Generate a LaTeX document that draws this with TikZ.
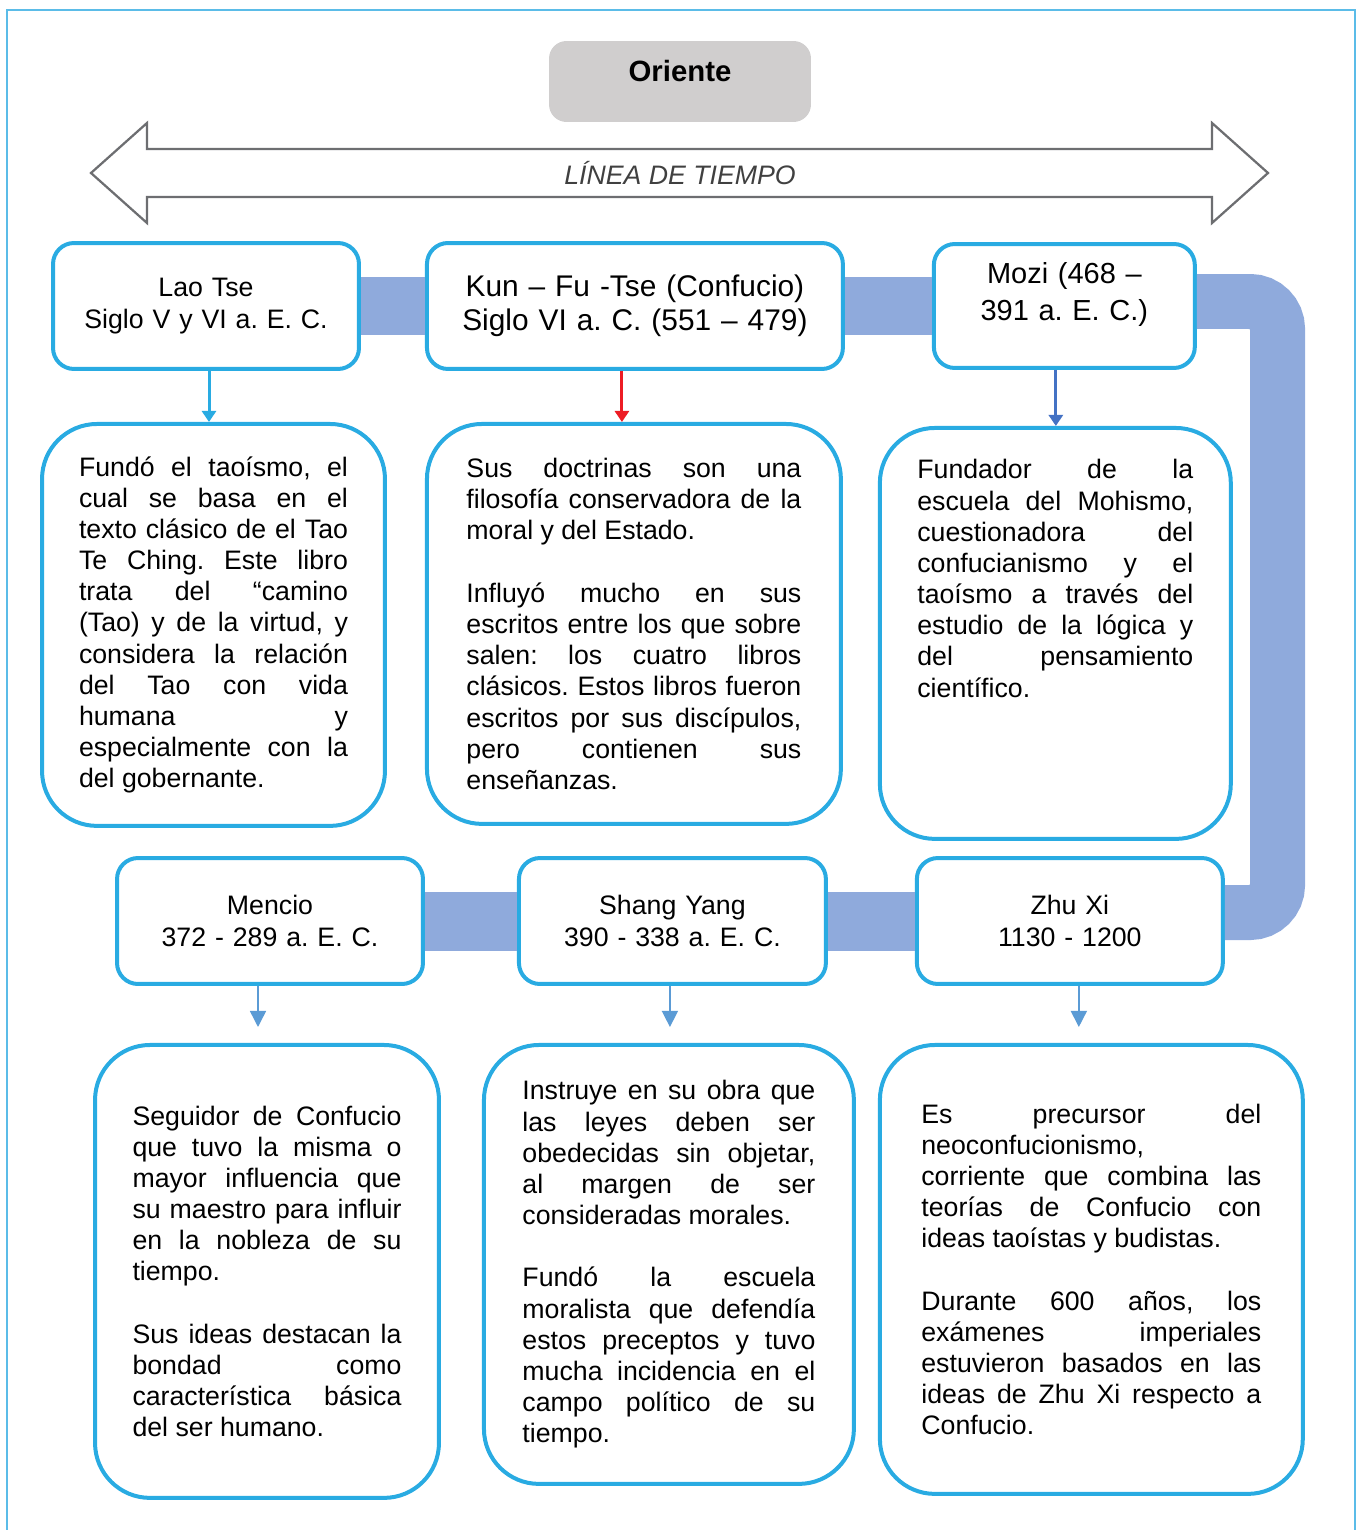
\documentclass[tikz,border=0pt]{standalone}
\usepackage{fontspec}
\setmainfont{Liberation Sans}
\usepackage{tikz}
\usetikzlibrary{arrows.meta, positioning}

\definecolor{boxblue}{HTML}{29ABE2}
\definecolor{linkblue}{HTML}{8FAADC}
\definecolor{kunred}{HTML}{ED1C24}
\definecolor{mozblue}{HTML}{4472C4}
\definecolor{subblue}{HTML}{5B9BD5}
\definecolor{oribg}{HTML}{D0CECE}
\definecolor{tlgray}{HTML}{6D6E71}
\definecolor{frameblue}{HTML}{5BBCE8}

\newcommand{\descfont}{\fontsize{15.2}{17.75}\selectfont\tolerance=10000\relax\hyphenpenalty=10000\relax\parindent=0pt\relax}
\newcommand{\padbelow}[1]{\par\nointerlineskip\vbox to #1{}}
\frenchspacing

\begin{document}
\begin{tikzpicture}[x=0.02cm, y=-0.02cm,
    pageframe/.style={draw=frameblue, line width=0.03cm},
    headbox/.style={fill=oribg, rounded corners=0.35cm, minimum width=5.24cm, minimum height=1.62cm, text depth=0.42cm, font=\bfseries\fontsize{16.7}{20}\selectfont},
    tlarrow/.style={draw=tlgray, line width=0.045cm, fill=white},
    hdr/.style={draw=boxblue, line width=0.08cm, rounded corners=0.42cm, align=center, text width=5.6cm, minimum height=2.52cm, font=\fontsize{15.2}{17.75}\selectfont},
    desc/.style={draw=boxblue, line width=0.08cm, rounded corners=1.1cm, align=justify, font=\descfont},
    link/.style={draw=linkblue, line width=1.18cm},
    mainarrow/.style={-{Triangle[width=0.28cm,length=0.22cm]}, line width=0.06cm},
    subarrow/.style={-{Triangle[width=0.32cm,length=0.32cm]}, draw=subblue, line width=0.03cm, shorten >=0.32cm}]

    \useasboundingbox (0,0) rectangle (1358,1530);
    \draw[pageframe] (7,1530) |- (1355,10) -- (1355,1530);

    % Title and time line
    \node[headbox] (ori) at (680,81.5) {Oriente};
    \draw[tlarrow] (91,173) -- (147,123) -- (147,149) -- (1212,149) -- (1212,123) -- (1268,173)
        -- (1212,223) -- (1212,197) -- (147,197) -- (147,223) -- cycle;
    \node[font=\itshape\fontsize{15.2}{18}\selectfont, text=black!75] (tl) at (680,173) {LÍNEA DE TIEMPO};

    % Top row
    \node[hdr, minimum width=6.12cm] (lao) at (206,306) {Lao Tse\\Siglo V y VI a. E. C.};
    \node[hdr, right=1.28cm of lao, minimum width=8.32cm, text width=7.4cm, font=\fontsize{17}{19.35}\selectfont] (kun) {Kun – Fu -Tse (Confucio)\\Siglo VI a. C. (551 – 479)};
    \node[hdr, right=1.74cm of kun, minimum width=5.22cm, minimum height=2.48cm, text width=4.9cm, font=\fontsize{16.5}{21}\selectfont] (mozi) {Mozi (468 –\\391 a. E. C.)\padbelow{0.46cm}};

    \node[desc, below=1.02cm of lao, xshift=0.15cm, minimum width=6.86cm, minimum height=8.04cm, text width=5.38cm] (laod) {%
        Fundó el taoísmo, el\linebreak
        cual se basa en el\linebreak
        texto clásico de el Tao\linebreak
        Te Ching. Este libro\linebreak
        trata del “camino\linebreak
        (Tao) y de la virtud, y\linebreak
        considera la relación\linebreak
        del Tao con vida\linebreak
        humana y\linebreak
        especialmente con la\linebreak
        del gobernante.};
    \node[desc, below=1.02cm of kun, xshift=-0.02cm, minimum width=8.28cm, minimum height=8cm, text width=6.7cm] (kund) {%
        Sus doctrinas son una\linebreak
        filosofía conservadora de la\linebreak
        moral y del Estado.\par\vspace{\baselineskip}
        Influyó mucho en sus\linebreak
        escritos entre los que sobre\linebreak
        salen: los cuatro libros\linebreak
        clásicos. Estos libros fueron\linebreak
        escritos por sus discípulos,\linebreak
        pero contienen sus\linebreak
        enseñanzas.};
    \node[desc, below=1.12cm of mozi, xshift=-0.18cm, minimum width=7.02cm, minimum height=8.22cm, text width=5.52cm] (mozid) {%
        Fundador de la\linebreak
        escuela del Mohismo,\linebreak
        cuestionadora del\linebreak
        confucianismo y el\linebreak
        taoísmo a través del\linebreak
        estudio de la lógica y\linebreak
        del pensamiento\linebreak
        científico.\padbelow{2.2cm}};

    % Bottom row
    \node[hdr, minimum width=6.12cm] (men) at (270,921) {Mencio\\372 - 289 a. E. C.};
    \node[hdr, right=1.84cm of men, minimum width=6.14cm] (sha) {Shang Yang\\390 - 338 a. E. C.};
    \node[hdr, right=1.74cm of sha, minimum width=6.12cm] (zhu) {Zhu Xi\\1130 - 1200};

    \node[desc, below=1.14cm of men, xshift=-0.06cm, minimum width=6.88cm, minimum height=9.06cm, text width=5.38cm] (mend) {%
        Seguidor de Confucio\linebreak
        que tuvo la misma o\linebreak
        mayor influencia que\linebreak
        su maestro para influir\linebreak
        en la nobleza de su\linebreak
        tiempo.\par\vspace{\baselineskip}
        Sus ideas destacan la\linebreak
        bondad como\linebreak
        característica básica\linebreak
        del ser humano.};
    \node[desc, below=1.14cm of sha, xshift=-0.07cm, minimum width=7.4cm, minimum height=8.78cm, text width=5.86cm] (shad) {%
        Instruye en su obra que\linebreak
        las leyes deben ser\linebreak
        obedecidas sin objetar,\linebreak
        al margen de ser\linebreak
        consideradas morales.\par\vspace{\baselineskip}
        Fundó la escuela\linebreak
        moralista que defendía\linebreak
        estos preceptos y tuvo\linebreak
        mucha incidencia en el\linebreak
        campo político de su\linebreak
        tiempo.};
    \node[desc, below=1.14cm of zhu, xshift=0.43cm, minimum width=8.46cm, minimum height=8.98cm, text width=6.8cm] (zhud) {%
        Es precursor del\linebreak
        neoconfucionismo,\linebreak
        corriente que combina las\linebreak
        teorías de Confucio con\linebreak
        ideas taoístas y budistas.\par\vspace{\baselineskip}
        Durante 600 años, los\linebreak
        exámenes imperiales\linebreak
        estuvieron basados en las\linebreak
        ideas de Zhu Xi respecto a\linebreak
        Confucio.};

    % Links between the periods
    \coordinate (rail) at (1277.5,600);
    \draw[link] (lao) -- (kun);
    \draw[link] (kun) -- (mozi);
    \draw[link, line width=1.1cm, rounded corners=0.55cm] ([yshift=0.09cm]mozi.east) -| (rail) |- ([yshift=0.17cm]zhu.east);
    \draw[link] (sha) -- (zhu);
    \draw[link] (men) -- (sha);

    % Arrows to the descriptions
    \draw[mainarrow, boxblue] ([xshift=0.06cm]lao.south) -- ([xshift=0.06cm]lao.south |- laod.north);
    \draw[mainarrow, kunred] ([xshift=-0.26cm]kun.south) -- ([xshift=-0.26cm]kun.south |- kund.north);
    \draw[mainarrow, mozblue] ([xshift=-0.17cm]mozi.south) -- ([xshift=-0.17cm]mozi.south |- mozid.north);
    \draw[subarrow] ([xshift=-0.24cm]men.south) -- ([xshift=-0.24cm]men.south |- mend.north);
    \draw[subarrow] ([xshift=-0.05cm]sha.south) -- ([xshift=-0.05cm]sha.south |- shad.north);
    \draw[subarrow] ([xshift=0.18cm]zhu.south) -- ([xshift=0.18cm]zhu.south |- zhud.north);
\end{tikzpicture}
\end{document}
